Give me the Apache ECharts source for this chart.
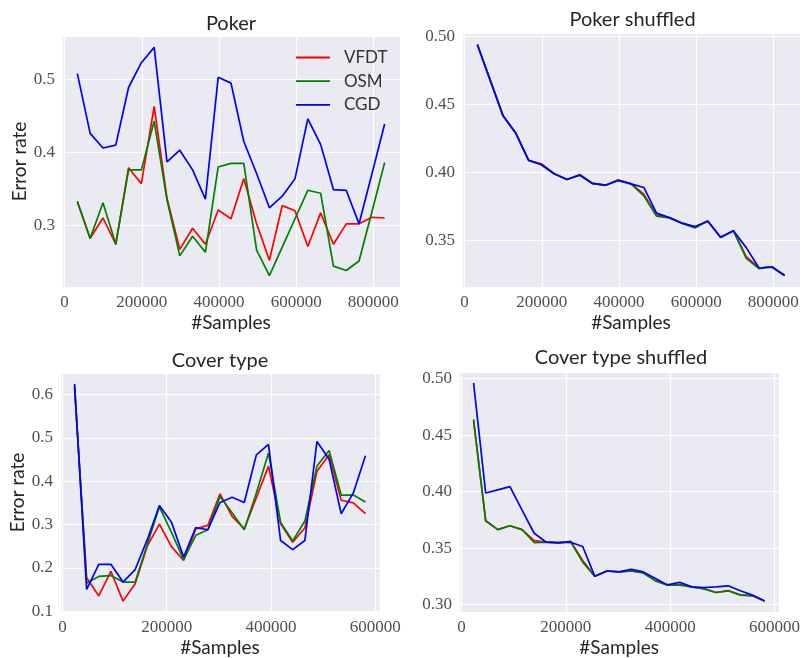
<!DOCTYPE html>
<html>
<head>
<meta charset="utf-8">
<script src="https://cdn.jsdelivr.net/npm/echarts@6/dist/echarts.min.js"></script>
<style>
  html, body { margin: 0; padding: 0; background: #ffffff; }
  #chart { width: 803px; height: 658px; }
</style>
</head>
<body>
<div id="chart"></div>
<script>
// Sample counts at which the error rate was evaluated
const pokerSamples = [33168, 66336, 99504, 132672, 165840, 199008, 232176, 265344, 298512, 331680,
  364848, 398016, 431184, 464352, 497520, 530688, 563856, 597024, 630192, 663360,
  696528, 729696, 762864, 796032, 829200];
const coverSamples = [23240, 46480, 69720, 92960, 116200, 139440, 162680, 185920, 209160, 232400,
  255640, 278880, 302120, 325360, 348600, 371840, 395080, 418320, 441560, 464800,
  488040, 511280, 534520, 557760, 581000];

// Poker (original order)
const pokerVFDT = [0.332, 0.282, 0.310, 0.274, 0.379, 0.357, 0.463, 0.337, 0.267, 0.296,
  0.274, 0.321, 0.309, 0.364, 0.302, 0.252, 0.327, 0.320, 0.271, 0.317,
  0.274, 0.302, 0.302, 0.311, 0.310];
const pokerOSM = [0.333, 0.282, 0.331, 0.274, 0.376, 0.376, 0.443, 0.335, 0.258, 0.285,
  0.263, 0.380, 0.385, 0.385, 0.266, 0.231, 0.270, 0.309, 0.348, 0.344,
  0.244, 0.238, 0.251, 0.318, 0.386];
const pokerCGD = [0.508, 0.426, 0.406, 0.410, 0.489, 0.523, 0.544, 0.387, 0.403, 0.376,
  0.336, 0.503, 0.495, 0.415, 0.371, 0.324, 0.340, 0.364, 0.446, 0.411,
  0.349, 0.348, 0.302, 0.370, 0.439];

// Poker (shuffled)
const pokerShufVFDT = [0.494, 0.468, 0.442, 0.429, 0.409, 0.4064, 0.399, 0.3948, 0.3985, 0.3919,
  0.3906, 0.3946, 0.3918, 0.384, 0.3685, 0.3667, 0.3626, 0.3598, 0.3642, 0.3522,
  0.3571, 0.3379, 0.3296, 0.3305, 0.3241];
const pokerShufOSM = [0.494, 0.468, 0.442, 0.429, 0.409, 0.4057, 0.399, 0.3948, 0.3982, 0.3917,
  0.3904, 0.3942, 0.3916, 0.3828, 0.3677, 0.3665, 0.3624, 0.3591, 0.3642, 0.352,
  0.357, 0.3367, 0.3291, 0.3303, 0.3241];
const pokerShufCGD = [0.4942, 0.468, 0.4418, 0.4289, 0.4089, 0.4057, 0.399, 0.3948, 0.3979, 0.3919,
  0.3906, 0.394, 0.3916, 0.3889, 0.370, 0.3667, 0.3626, 0.3601, 0.364, 0.3522,
  0.3571, 0.3446, 0.3296, 0.3305, 0.3241];

// Cover type (original order)
const coverVFDT = [0.615, 0.177, 0.135, 0.192, 0.123, 0.163, 0.250, 0.301, 0.249, 0.217,
  0.290, 0.298, 0.371, 0.319, 0.290, 0.362, 0.435, 0.302, 0.259, 0.292,
  0.423, 0.461, 0.356, 0.350, 0.325];
const coverOSM = [0.620, 0.165, 0.180, 0.182, 0.167, 0.167, 0.254, 0.341, 0.282, 0.219,
  0.275, 0.288, 0.365, 0.327, 0.288, 0.373, 0.465, 0.305, 0.262, 0.308,
  0.435, 0.471, 0.368, 0.368, 0.352];
const coverCGD = [0.625, 0.150, 0.208, 0.208, 0.167, 0.196, 0.265, 0.344, 0.305, 0.225,
  0.293, 0.288, 0.351, 0.363, 0.351, 0.461, 0.485, 0.263, 0.242, 0.263,
  0.492, 0.451, 0.325, 0.373, 0.459];

// Cover type (shuffled)
const coverShufVFDT = [0.4626, 0.3743, 0.3664, 0.3699, 0.3664, 0.3567, 0.3553, 0.3550, 0.3561, 0.3392,
  0.3251, 0.3298, 0.329, 0.3298, 0.3283, 0.3213, 0.3175, 0.3181, 0.3158, 0.3142,
  0.3108, 0.3125, 0.3088, 0.3080, 0.3032];
const coverShufOSM = [0.464, 0.3743, 0.3664, 0.3699, 0.3664, 0.355, 0.3553, 0.3550, 0.3558, 0.3377,
  0.3251, 0.3298, 0.329, 0.3298, 0.3281, 0.3211, 0.3173, 0.3173, 0.3158, 0.314,
  0.3108, 0.3123, 0.3085, 0.3079, 0.3032];
const coverShufCGD = [0.4962, 0.3988, 0.4016, 0.4044, 0.3836, 0.3632, 0.3553, 0.3547, 0.3553, 0.3515,
  0.3251, 0.3298, 0.329, 0.3313, 0.329, 0.3231, 0.3175, 0.3199, 0.3158, 0.3152,
  0.3158, 0.3167, 0.3123, 0.3085, 0.3032];

const methodNames = ['VFDT', 'OSM', 'CGD'];
const methodColors = ['#ff0000', '#008000', '#0000ff'];
const xTickStep = 200000;

const panels = [
  { title: 'Poker', samples: pokerSamples, values: [pokerVFDT, pokerOSM, pokerCGD],
    grid: { left: 62, top: 36, width: 338, height: 251 }, titleMid: 23.5,
    yStep: 0.1, yDigits: 1, ySplit: 3, yName: 'Error rate' },
  { title: 'Poker shuffled', samples: pokerSamples, values: [pokerShufVFDT, pokerShufOSM, pokerShufCGD],
    grid: { left: 462, top: 33, width: 341, height: 254 }, titleMid: 20,
    yStep: 0.05, yDigits: 2, ySplit: 4, yName: '' },
  { title: 'Cover type', samples: coverSamples, values: [coverVFDT, coverOSM, coverCGD],
    grid: { left: 60, top: 373, width: 320, height: 240 }, titleMid: 360.5,
    yStep: 0.1, yDigits: 1, ySplit: 5, yName: 'Error rate' },
  { title: 'Cover type shuffled', samples: coverSamples, values: [coverShufVFDT, coverShufOSM, coverShufCGD],
    grid: { left: 459, top: 372, width: 324, height: 241 }, titleMid: 358,
    yStep: 0.05, yDigits: 2, ySplit: 4, yName: '' }
];

// matplotlib-like autoscale: data range plus 5% on each side
function paddedExtent(arrays) {
  let lo = Infinity, hi = -Infinity;
  arrays.forEach(a => a.forEach(v => { lo = Math.min(lo, v); hi = Math.max(hi, v); }));
  const pad = (hi - lo) * 0.05;
  return [lo - pad, hi + pad];
}

function onStep(v, step) {
  const r = v / step;
  return Math.abs(r - Math.round(r)) < 1e-6;
}

const darkText = '#262626';
const tickFont = { fontFamily: 'Liberation Serif', fontSize: 17, color: '#505050' };
const nameFont = { fontFamily: 'Lato', fontSize: 19, color: darkText };

const option = {
  animation: false,
  backgroundColor: '#ffffff',
  title: [], grid: [], xAxis: [], yAxis: [], series: [],
  legend: {
    orient: 'vertical',
    left: 296, top: 49,
    padding: 0,
    icon: 'rect',
    itemWidth: 34, itemHeight: 1.8, itemGap: 6.7,
    data: methodNames,
    textStyle: { fontFamily: 'Lato', fontSize: 17, color: '#333333', lineHeight: 17, padding: [0, 0, 0, 9] }
  }
};

panels.forEach((p, k) => {
  const g = p.grid;
  option.title.push({
    text: p.title, left: g.left + g.width / 2, top: p.titleMid - 10, padding: 0,
    textAlign: 'center',
    textStyle: { fontFamily: 'Lato', fontSize: 20, fontWeight: 'normal', color: darkText }
  });
  option.grid.push({ left: g.left, top: g.top, width: g.width, height: g.height,
    show: true, backgroundColor: '#eaeaf2', borderWidth: 0 });

  const xr = paddedExtent([p.samples]);
  option.xAxis.push({
    type: 'value', gridIndex: k, min: xr[0], max: xr[1], splitNumber: 4,
    name: '#Samples', nameLocation: 'middle', nameGap: 26, nameTextStyle: nameFont,
    axisLine: { show: false }, axisTick: { show: false },
    axisLabel: Object.assign({ margin: 7, formatter: v => onStep(v, xTickStep) ? String(Math.round(v)) : '' }, tickFont),
    splitLine: { show: true, lineStyle: { color: '#ffffff', width: 1.2 } }
  });

  const yr = paddedExtent(p.values);
  option.yAxis.push({
    type: 'value', gridIndex: k, min: yr[0], max: yr[1], splitNumber: p.ySplit,
    name: p.yName, nameLocation: 'middle', nameGap: 33, nameTextStyle: nameFont,
    axisLine: { show: false }, axisTick: { show: false },
    axisLabel: Object.assign({ margin: 7, formatter: v => onStep(v, p.yStep) ? v.toFixed(p.yDigits) : '' }, tickFont),
    splitLine: { show: true, lineStyle: { color: '#ffffff', width: 1.2 } }
  });

  p.values.forEach((vals, m) => {
    option.series.push({
      type: 'line', name: methodNames[m], xAxisIndex: k, yAxisIndex: k,
      data: p.samples.map((x, i) => [x, vals[i]]),
      symbol: 'none', color: methodColors[m],
      lineStyle: { color: methodColors[m], width: 1.7 },
      emphasis: { disabled: true }
    });
  });
});

const chart = echarts.init(document.getElementById('chart'), null, { renderer: 'canvas' });
chart.setOption(option);
</script>
</body>
</html>
